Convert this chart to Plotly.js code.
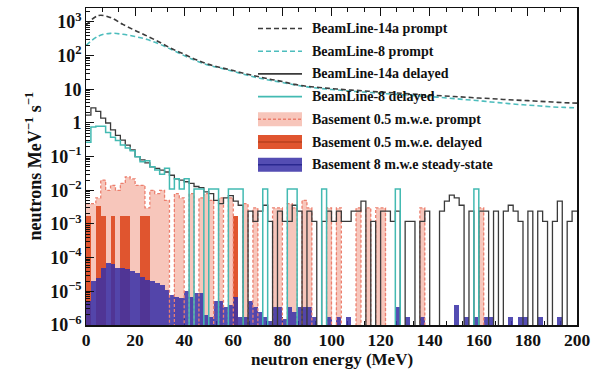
<!DOCTYPE html>
<html>
<head>
<meta charset="utf-8">
<script src="https://cdn.plot.ly/plotly-3.0.1.min.js"></script>
<style>
  html, body { margin: 0; padding: 0; background: #fff; }
  #chart { width: 598px; height: 369px; }
</style>
</head>
<body>
<div id="chart"></div>
<script>
// Neutron energy spectra at the beam lines and in the basement.
// Histograms use 2 MeV bins starting at 0 MeV; smooth prompt spectra are sampled every 5 MeV.

const binWidth = 2; // MeV

const promptEnergy = [
  0, 5, 10, 15, 20, 25, 30, 35, 40, 45,
  50, 55, 60, 65, 70, 75, 80, 85, 90, 95,
  100, 105, 110, 115, 120, 125, 130, 135, 140, 145,
  150, 155, 160, 165, 170, 175, 180, 185, 190, 195, 200
];

const beamline14aPrompt = [
  800, 1550, 1350, 850, 560, 380, 250, 160, 110, 75,
  55, 44, 36, 29, 24, 20, 17, 14, 12.3, 11.3,
  10.5, 9.8, 9.3, 8.8, 8.3, 7.9, 7.5, 7.1, 6.7, 6.4,
  6.1, 5.8, 5.5, 5.3, 5.0, 4.8, 4.6, 4.4, 4.2, 4.0, 3.9
];

const beamline8Prompt = [
  200, 380, 460, 430, 370, 300, 220, 150, 100, 70,
  52, 42, 34, 27, 22, 18.5, 16, 13.5, 11.8, 10.7,
  9.9, 9.2, 8.6, 8.1, 7.6, 7.2, 6.8, 6.4, 6.1, 5.7,
  5.3, 4.9, 4.6, 4.2, 3.9, 3.6, 3.4, 3.2, 3.0, 2.9, 2.8
];

const beamline14aDelayed = [
  1.7, 2.8, 2.2, 1.4, 1.0, 0.62, 0.43, 0.31, 0.22, 0.16,
  0.1, 0.08, 0.065, 0.05, 0.045, 0.04, 0.035, 0.028, 0.022, 0.02,
  0.018, 0.016, 0.013, 0.012, 0.009, 0.008, 0.005, 0.004, 0.006, 0.007,
  0.0048, 0.0036, 0, 0.0024, 0.0012, 0.0024, 0.0036, 0.0012, 0, 0.0024,
  0.0012, 0.0012, 0.0036, 0.0024, 0, 0.0024, 0.0012, 0, 0.0012, 0.0024,
  0.0012, 0.0024, 0.0012, 0.0012, 0.0024, 0.0024, 0.0048, 0, 0.0012, 0,
  0.0024, 0.0024, 0.0012, 0.0024, 0, 0.0012, 0.0012, 0, 0.0012, 0.0024,
  0, 0, 0.0024, 0.0048, 0.0072, 0.006, 0.0036, 0, 0.0024, 0,
  0.0024, 0.0024, 0, 0.0024, 0, 0.0024, 0.0036, 0.0024, 0.0012, 0,
  0.0024, 0, 0.0024, 0.0012, 0, 0.0012, 0.0048, 0, 0.0012, 0.0024
];

const beamline8Delayed = [
  0.27, 0.76, 0.8, 0.8, 0.52, 0.38, 0.3, 0.22, 0.18, 0.15,
  0.1, 0.07, 0.075, 0.05, 0.04, 0.03, 0.045, 0.011, 0.022, 0.011,
  0.022, 0, 0.011, 0.011, 0, 0.011, 0.011, 0, 0, 0.011,
  0.011, 0.011, 0, 0, 0, 0, 0.011, 0, 0, 0,
  0, 0.011, 0.011, 0, 0, 0, 0, 0, 0.011, 0,
  0, 0, 0, 0, 0, 0, 0, 0, 0, 0,
  0, 0, 0, 0.011, 0, 0, 0, 0, 0, 0,
  0, 0, 0, 0, 0, 0, 0, 0, 0, 0.011,
  0, 0, 0, 0, 0, 0, 0, 0, 0, 0,
  0, 0, 0, 0, 0, 0, 0, 0, 0, 0
];

const basementPrompt = [
  0.004, 0.004, 0.006, 0.02, 0.01, 0.014, 0.01, 0.016, 0.025, 0.022,
  0.014, 0.014, 0.003, 0.01, 0.008, 0.01, 0.005, 0, 0.008, 0.006,
  0, 0.008, 0, 0.006, 0.008, 0.005, 0, 0.006, 0, 0.006,
  0, 0, 0.004, 0, 0.003, 0, 0, 0, 0.003, 0.003,
  0, 0.004, 0.003, 0, 0.005, 0.003, 0, 0, 0, 0.003,
  0, 0.003, 0, 0, 0, 0.003, 0, 0.003, 0, 0.003,
  0.003, 0, 0, 0, 0, 0, 0, 0, 0.003, 0,
  0, 0, 0, 0, 0, 0, 0, 0, 0, 0,
  0.003, 0, 0, 0, 0, 0, 0, 0, 0, 0,
  0, 0, 0, 0, 0, 0, 0, 0, 0, 0
];

const basementDelayed = [
  0.0017, 0, 0.0034, 0.0017, 0, 0.0017, 0, 0.0017, 0.0017, 0,
  0, 0.0017, 0.0017, 0, 0, 0, 0, 0, 0, 0,
  0, 0, 0, 0, 0, 0, 0, 0, 0, 0,
  0.0017, 0, 0, 0, 0, 0, 0, 0, 0, 0,
  0, 0, 0, 0, 0, 0, 0, 0, 0, 0,
  0, 0, 0, 0, 0, 0, 0, 0, 0, 0,
  0, 0, 0, 0, 0, 0, 0, 0, 0, 0,
  0, 0, 0, 0, 0, 0, 0, 0, 0, 0,
  0, 0, 0, 0, 0, 0, 0, 0, 0, 0,
  0, 0, 0, 0, 0, 0, 0, 0, 0, 0
];

const basementSteady = [
  5e-6, 2e-5, 2.5e-5, 5e-5, 7e-5, 6.5e-5, 5e-5, 5e-5, 4.5e-5, 4e-5,
  3.5e-5, 2.6e-5, 2.2e-5, 2e-5, 1.8e-5, 1.5e-5, 1.1e-5, 8e-6, 7e-6, 6.5e-6,
  1e-5, 7e-6, 9e-6, 9e-6, 2e-6, 1.7e-6, 5e-6, 5e-6, 3.5e-6, 4e-6,
  7e-6, 1.7e-6, 1.7e-6, 5e-6, 3.5e-6, 2.5e-6, 1.7e-6, 1.3e-6, 3.4e-6, 3.4e-6,
  1.5e-6, 3.4e-6, 2.5e-6, 3.4e-6, 3.4e-6, 3.4e-6, 1.7e-6, 0, 0, 1.7e-6,
  0, 1.7e-6, 0, 1.7e-6, 0, 0, 0, 0, 0, 0,
  0, 0, 0, 3.4e-6, 0, 1.7e-6, 0, 0, 1.7e-6, 0,
  0, 0, 0, 0, 0, 4e-6, 0, 1.7e-6, 0, 1.7e-6,
  0, 1.7e-6, 1.7e-6, 0, 0, 0, 1.7e-6, 0, 1.7e-6, 1.7e-6,
  0, 0, 1.7e-6, 0, 0, 0, 1.7e-6, 0, 0, 0
];

const seriesNames = [
  'BeamLine-14a prompt',
  'BeamLine-8 prompt',
  'BeamLine-14a delayed',
  'BeamLine-8 delayed',
  'Basement 0.5 m.w.e. prompt',
  'Basement 0.5 m.w.e. delayed',
  'Basement 8 m.w.e steady-state'
];

const xTitle = 'neutron energy (MeV)';
const yTitle = 'neutrons MeV<sup>\u22121</sup> s<sup>\u22121</sup>';

// ---- styling ----
const SERIF = '"Liberation Serif", "Times New Roman", serif';
const COL = {
  bl14a: '#3c3c3c',
  bl8: '#4dbdbd',
  bl14aDel: '#3a3a3a',
  bl8Del: '#43bab2',
  promptFill: '#f7c6bb',
  promptLine: '#ec7f6e',
  delayed: '#e0552f',
  delayedEdge: '#b8401f',
  steady: 'rgba(56,48,166,0.86)',
  steadyEdge: '#2a2890'
};
const PROMPT_DASH = '5px,3px';
const FLOOR = 1e-9; // empty bins drop below the visible log range

const nBins = beamline14aDelayed.length;
const binEdges = Array.from({ length: nBins + 1 }, (_, i) => i * binWidth);
const binCenters = Array.from({ length: nBins }, (_, i) => (i + 0.5) * binWidth);

function stepY(values) {
  const ys = values.map(v => (v > 0 ? v : FLOOR));
  ys.push(ys[ys.length - 1]);
  return ys;
}
function barY(values) {
  return values.map(v => (v > 0 ? v : null));
}

const traces = [
  // basement prompt: filled histogram with dashed outline
  { type: 'bar', x: binCenters, y: barY(basementPrompt), width: binWidth,
    marker: { color: COL.promptFill, line: { width: 0 } }, hoverinfo: 'skip' },
  { type: 'scatter', mode: 'lines', x: binEdges, y: stepY(basementPrompt),
    line: { shape: 'hv', color: COL.promptLine, width: 1.3, dash: '3px,2px' }, hoverinfo: 'skip' },
  // basement delayed
  { type: 'bar', x: binCenters, y: barY(basementDelayed), width: binWidth,
    marker: { color: COL.delayed, line: { width: 0 } }, hoverinfo: 'skip' },
  // beam-line delayed histograms
  { type: 'scatter', mode: 'lines', x: binEdges, y: stepY(beamline14aDelayed),
    line: { shape: 'hv', color: COL.bl14aDel, width: 1.3 }, hoverinfo: 'skip' },
  { type: 'scatter', mode: 'lines', x: binEdges, y: stepY(beamline8Delayed),
    line: { shape: 'hv', color: COL.bl8Del, width: 1.5 }, hoverinfo: 'skip' },
  // basement steady-state
  { type: 'bar', x: binCenters, y: barY(basementSteady), width: binWidth,
    marker: { color: COL.steady, line: { width: 0 } }, hoverinfo: 'skip' },
  // beam-line prompt spectra
  { type: 'scatter', mode: 'lines', x: promptEnergy, y: beamline8Prompt,
    line: { shape: 'spline', color: COL.bl8, width: 1.6, dash: PROMPT_DASH }, hoverinfo: 'skip' },
  { type: 'scatter', mode: 'lines', x: promptEnergy, y: beamline14aPrompt,
    line: { shape: 'spline', color: COL.bl14a, width: 1.6, dash: PROMPT_DASH }, hoverinfo: 'skip' }
];

// ---- frame geometry ----
const W = 598, H = 369;
const M = { l: 86, r: 21, t: 8, b: 44 };
const plotW = W - M.l - M.r;
const plotH = H - M.t - M.b;
const px2x = px => (px - M.l) / plotW;
const py2y = py => (H - M.b - py) / plotH;

// ---- legend (swatch + label per series) ----
const legendStyle = [
  { kind: 'line', color: COL.bl14a, dash: PROMPT_DASH },
  { kind: 'line', color: COL.bl8, dash: PROMPT_DASH },
  { kind: 'line', color: COL.bl14aDel, dash: 'solid' },
  { kind: 'line', color: COL.bl8Del, dash: 'solid' },
  { kind: 'box', fill: COL.promptFill, color: COL.promptLine, dash: '3px,2px' },
  { kind: 'box', fill: COL.delayed, color: COL.delayedEdge, dash: 'solid' },
  { kind: 'box', fill: COL.steady, color: COL.steadyEdge, dash: 'solid' }
];
const legX0 = 258, legX1 = 302, legText = 310, legRow0 = 28.5, legStep = 22.7, boxH = 14;

const FONT = (size) => ({ family: SERIF, size: size, weight: 'bold', color: '#111' });

const shapes = [];
const annotations = [];
seriesNames.forEach((name, i) => {
  const st = legendStyle[i];
  const cy = legRow0 + i * legStep;
  if (st.kind === 'box') {
    shapes.push({ type: 'rect', xref: 'paper', yref: 'paper', layer: 'above',
      x0: px2x(legX0), x1: px2x(legX1), y0: py2y(cy + boxH / 2), y1: py2y(cy - boxH / 2),
      fillcolor: st.fill, line: { width: 0 } });
  }
  shapes.push({ type: 'line', xref: 'paper', yref: 'paper', layer: 'above',
    x0: px2x(legX0), x1: px2x(legX1), y0: py2y(cy), y1: py2y(cy),
    line: { color: st.color, width: 1.6, dash: st.dash } });
  annotations.push({ xref: 'paper', yref: 'paper', x: px2x(legText), y: py2y(cy),
    xanchor: 'left', yanchor: 'middle', showarrow: false, text: name,
    font: FONT(14) });
});

// axis titles, placed beside the tick labels
annotations.push({ xref: 'paper', yref: 'paper', x: px2x(34), y: 0.5,
  xanchor: 'center', yanchor: 'middle', textangle: -90, showarrow: false,
  text: yTitle, font: FONT(18) });
annotations.push({ xref: 'paper', yref: 'paper', x: 0.5, y: py2y(359),
  xanchor: 'center', yanchor: 'middle', showarrow: false,
  text: xTitle, font: FONT(17) });

const axisCommon = {
  showgrid: false, zeroline: false, showline: true, linecolor: '#111', linewidth: 1.5,
  ticks: 'inside', ticklen: 8, tickwidth: 1, tickcolor: '#111',
  tickfont: FONT(18)
};

const layout = {
  width: W, height: H,
  margin: M,
  paper_bgcolor: '#fff', plot_bgcolor: '#fff',
  showlegend: false,
  barmode: 'overlay', bargap: 0,
  xaxis: Object.assign({}, axisCommon, {
    range: [0, 200], tickmode: 'linear', tick0: 0, dtick: 20,
    mirror: 'allticks', layer: 'below traces',
    tickfont: FONT(17.5), ticklabelstandoff: -2,
    minor: { ticks: 'inside', ticklen: 4, tickcolor: '#111', dtick: 20 / 3 }
  }),
  yaxis: Object.assign({}, axisCommon, {
    type: 'log', range: [-6, 3.415], tickmode: 'linear', tick0: 0, dtick: 1,
    exponentformat: 'power', mirror: true,
    tickfont: FONT(14.4),
    minor: { ticks: 'inside', ticklen: 4, tickcolor: '#111', dtick: 'D1' }
  }),
  shapes: shapes,
  annotations: annotations
};

Plotly.newPlot('chart', traces, layout, { staticPlot: true, displayModeBar: false });
</script>
</body>
</html>
